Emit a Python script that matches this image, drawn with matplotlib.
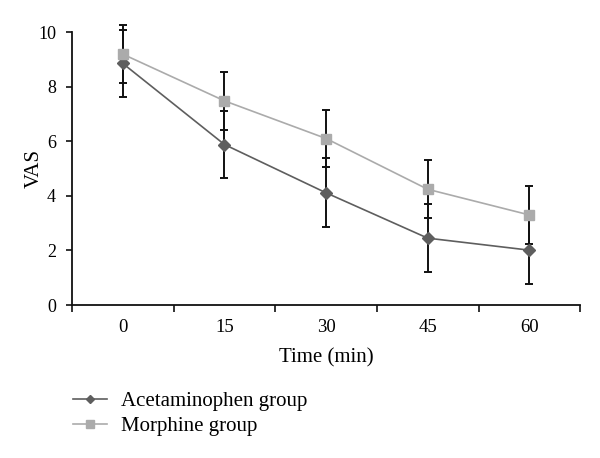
import matplotlib
matplotlib.use("Agg")
import matplotlib.pyplot as plt
import numpy as np

plt.rcParams['font.family'] = ['Liberation Serif', 'DejaVu Serif']

times = ["0", "15", "30", "45", "60"]
acet_mean = [8.85, 5.88, 4.11, 2.45, 2.01]
acet_sd = [1.22, 1.24, 1.26, 1.25, 1.25]
morph_mean = [9.19, 7.48, 6.10, 4.24, 3.30]
morph_sd = [1.07, 1.07, 1.06, 1.07, 1.07]
yticks = [0, 2, 4, 6, 8, 10]

fig = plt.figure(figsize=(6, 4.58), dpi=100)
ax = fig.add_axes([0.12, 0.334, 0.847, 0.596])
x = np.arange(len(times))

for m, s in [(acet_mean, acet_sd), (morph_mean, morph_sd)]:
    eb = ax.errorbar(x, m, yerr=s, fmt='none', ecolor='#111111',
                     elinewidth=1.4, capsize=3.2, capthick=1.4, zorder=2)
    for art in list(eb.lines[1]) + list(eb.lines[2]):
        art.set_clip_on(False)
ax.plot(x, acet_mean, color='#5e5e5e', lw=1.2, marker='D', markersize=5.8,
        label='Acetaminophen group', zorder=3, clip_on=False)
ax.plot(x, morph_mean, color='#ababab', lw=1.2, marker='s', markersize=7.2,
        label='Morphine group', zorder=4, clip_on=False)

ax.set_ylim(0, 10)
ax.set_yticks(yticks)
ax.set_xlim(-0.5, len(times) - 0.5)
ax.set_xticks(np.arange(-0.5, len(times)), labels=[''] * (len(times) + 1))
ax.set_xticks(x, labels=times, minor=True)
ax.tick_params(axis='x', which='major', direction='out', length=5, width=1.2, color='#111111')
ax.tick_params(axis='x', which='minor', length=0, labelsize=13.5, pad=10)
ax.tick_params(axis='y', direction='out', length=4.5, width=1.2, labelsize=13, pad=7, color='#111111')
for s in ['top', 'right']:
    ax.spines[s].set_visible(False)
for s in ['left', 'bottom']:
    ax.spines[s].set_linewidth(1.3)
    ax.spines[s].set_color('#111111')
ax.set_xlabel('Time (min)', fontsize=15, labelpad=9)
ax.set_ylabel('VAS', fontsize=15, labelpad=-4)

fig.legend(loc='upper left', bbox_to_anchor=(0.122, 0.145), frameon=False,
           fontsize=15, handlelength=1.6, handletextpad=0.7, labelspacing=0.25,
           borderaxespad=0, borderpad=0, markerscale=0.75)

fig.savefig('out.png', dpi=100)
